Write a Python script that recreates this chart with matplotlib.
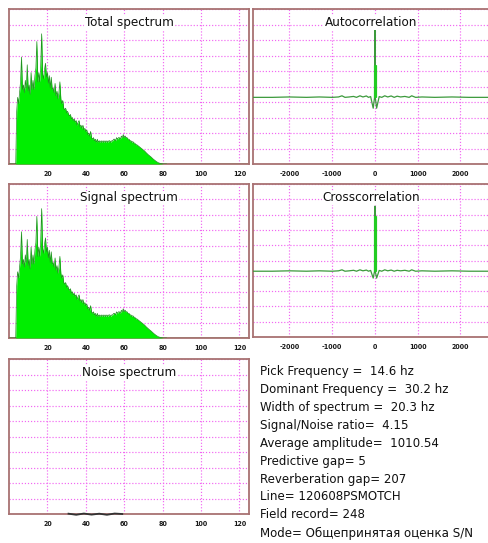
import numpy as np
import matplotlib.pyplot as plt
from matplotlib import font_manager as fm

# spectrum (relative amplitude, 0..10), sampled every 0.5 hz from 0 to 82 hz
freq = np.arange(0, 82.5, 0.5)
total_amp = [0, 0, 0, 0, 0, 0, 0, 0,
             3.4, 4.3, 3.9, 4.6, 5.3, 6.9, 4.8, 5.1, 4.6, 5.4,
             4.9, 6.4, 4.7, 5.1, 4.5, 5.9, 4.8, 5.4, 4.8, 5.7,
             6.2, 7.9, 5.3, 5.9, 5.3, 6.3, 8.4, 5.8, 5.5, 6.1,
             6.5, 5.6, 5.9, 5.2, 5.7, 4.9, 5.6, 4.8, 4.9, 4.6,
             5.2, 4.4, 4.7, 4.2, 4.6, 5.3, 4.2, 3.9, 4.1, 3.6,
             3.5, 3.6, 3.3, 3.4, 3.2, 3.1, 3.2, 2.9, 3.0, 2.8,
             2.9, 2.7, 2.8, 2.5, 2.7, 2.8, 2.4, 2.5, 2.3, 2.5,
             2.2, 2.3, 2.1, 2.2, 1.9, 2.0, 1.8, 2.1, 1.7, 1.6,
             1.7, 1.5, 1.6, 1.4, 1.6, 1.4, 1.5, 1.4, 1.5, 1.4,
             1.5, 1.4, 1.5, 1.4, 1.5, 1.4, 1.5, 1.5, 1.4, 1.5,
             1.5, 1.6, 1.6, 1.5, 1.7, 1.6, 1.7, 1.7, 1.6, 1.8,
             1.7, 1.9, 1.7, 1.8, 1.7, 1.7, 1.6, 1.6, 1.5, 1.5,
             1.4, 1.45, 1.35, 1.35, 1.25, 1.25, 1.2, 1.15, 1.1, 1.05,
             1.0, 0.95, 0.9, 0.85, 0.78, 0.72, 0.66, 0.6, 0.55, 0.5,
             0.45, 0.39, 0.33, 0.28, 0.23, 0.18, 0.14, 0.1, 0.07, 0.05,
             0.03, 0.02, 0.01, 0, 0, 0, 0]
signal_amp = list(total_amp)

noise_freq = [31, 35, 39, 43, 47, 51, 55, 59]
noise_amp = [0.02, -0.05, 0.03, -0.04, 0.02, -0.05, 0.03, 0.0]

# correlations, lag in ms
lag = [-2850, -2400, -2000, -1600, -1300, -1000, -850, -770, -700, -600,
       -500, -430, -350, -280, -200, -150, -100, -40, -8, -3, 0,
       3, 8, 40, 100, 160, 230, 300, 380, 450, 520, 600, 700, 800,
       860, 950, 1100, 1400, 1800, 2200, 2670]
auto_val = [0, 0, 0.005, 0, 0.005, 0, 0.005, 0.02, 0.0, 0.005,
            0.012, 0.0, 0.02, 0.005, 0.018, 0.0, 0.01, -0.14, 0.0, 0.42, 1.0,
            0.42, 0.0, -0.14, 0.01, 0.0, 0.02, 0.005, 0.018, 0.0, 0.015, 0.005, 0.012, 0.0,
            0.02, 0.0, 0.005, 0, 0.005, 0, 0]
cross_val = [0, 0, 0.005, 0, 0.005, 0, 0.005, 0.018, 0.0, 0.005,
             0.012, 0.0, 0.018, 0.005, 0.015, 0.0, 0.01, -0.09, 0.0, 0.72, 0.85,
             0.72, 0.0, -0.09, 0.01, 0.0, 0.018, 0.005, 0.015, 0.0, 0.012, 0.005, 0.012, 0.0,
             0.018, 0.0, 0.005, 0, 0.005, 0, 0]

info_lines = ["Pick Frequency =  14.6 hz",
              "Dominant Frequency =  30.2 hz",
              "Width of spectrum =  20.3 hz",
              "Signal/Noise ratio=  4.15",
              "Average amplitude=  1010.54",
              "Predictive gap= 5",
              "Reverberation gap= 207",
              "Line= 120608PSMOTCH",
              "Field record= 248",
              "Mode= Общепринятая оценка S/N"]


def narrow_font():
    # narrowest installed sans font
    for fam, stretch, key in [('Liberation Sans Narrow', 'normal', 'Narrow'),
                              ('DejaVu Sans', 'condensed', 'Condensed'),
                              ('Liberation Sans', 'normal', 'Liberation'),
                              ('Roboto', 'normal', 'Roboto')]:
        try:
            path = fm.findfont(fm.FontProperties(family=fam, stretch=stretch),
                               fallback_to_default=False)
        except ValueError:
            continue
        if key.lower() in path.lower():
            return fam, stretch
    return 'DejaVu Sans', 'normal'


FAM, STRETCH = narrow_font()
plt.rcParams['font.family'] = [FAM, 'DejaVu Sans']
plt.rcParams['font.stretch'] = STRETCH

W, H = 489, 543
fig = plt.figure(figsize=(W / 100, H / 100), dpi=100)
fig.patch.set_facecolor('white')
renderer = fig.canvas.get_renderer()


def size_for(s, target, weight='normal'):
    t = fig.text(0, 0, s, fontsize=10, fontweight=weight, fontstretch=STRETCH)
    w = t.get_window_extent(renderer).width
    t.remove()
    return 10 * target / w


# reference text is squeezed; go a little wider to keep it readable
title_fs = size_for('Total spectrum', 74) * 1.2
tick_fs = size_for('-2000', 18, 'bold') * 1.15
info_fs = size_for('Pick Frequency =  14.6 hz', 122) * 1.25

frame_col = '#a87272'
grid_col = '#f266f2'


def box(x0, y0, x1, y1):
    # pixel box (top-left origin) -> figure fraction axes
    return fig.add_axes([x0 / W, 1 - y1 / H, (x1 - x0) / W, (y1 - y0) / H])


def style(ax, title, xt, ylim, right=True):
    ax.set_ylim(ylim)
    ax.set_xticks(xt)
    ax.set_xticklabels([str(v) for v in xt], fontsize=tick_fs, fontweight='bold')
    ax.set_yticks(np.linspace(ylim[0], ylim[1], 11))
    ax.set_yticklabels([])
    ax.tick_params(length=0, pad=5, colors='#1a1a1a')
    ax.grid(True, color=grid_col, linestyle=(0, (1, 1.6)), linewidth=0.85)
    ax.set_axisbelow(True)
    for s in ax.spines.values():
        s.set_color(frame_col)
        s.set_linewidth(1.3)
    if not right:
        ax.spines['right'].set_visible(False)
    ax.text(0.5, 0.91, title, transform=ax.transAxes, ha='center', va='center',
            fontsize=title_fs, color='#111111',
            bbox=dict(facecolor='white', edgecolor='none', pad=0.5))


spec_ticks = [20, 40, 60, 80, 100, 120]
corr_ticks = [-2000, -1000, 0, 1000, 2000]

# spectra
for (y0, y1), title, amp in [((9, 164), 'Total spectrum', total_amp),
                             ((184, 338), 'Signal spectrum', signal_amp)]:
    ax = box(9, y0, 249, y1)
    ax.set_xlim(0, 125)
    ax.plot([0, 125], [0, 0], color='#55b055', lw=1.2, zorder=2)
    ax.fill_between(freq, 0, amp, color='#00ee00', lw=0, zorder=3)
    ax.plot(freq, amp, color='#1f8f1f', lw=0.5, zorder=4)
    style(ax, title, spec_ticks, (0, 10))

ax = box(9, 359, 249, 514)
ax.set_xlim(0, 125)
ax.plot(noise_freq, noise_amp, color='#333333', lw=1.3, zorder=5, clip_on=False)
style(ax, 'Noise spectrum', spec_ticks, (0, 10))

# correlations
for (y0, y1), title, val, thick in [((9, 164), 'Autocorrelation', auto_val, 0.42),
                                    ((184, 337), 'Crosscorrelation', cross_val, 0.72)]:
    ax = box(253, y0, 489, y1)
    ax.set_xlim(-2850, 2667)
    v = np.array(val)
    lg = np.array(lag)
    ax.plot(lg, v, color='#3c9a3c', lw=0.9, zorder=3)
    core = v > 0.3
    ax.vlines(lg[core], 0, np.minimum(v[core], thick), color='#22cc22', lw=2.2, zorder=4)
    style(ax, title, corr_ticks, (-0.86, 1.14), right=False)

# info text
for i, line in enumerate(info_lines):
    fig.text(260 / W, 1 - (371 + 18 * i) / H, line, ha='left', va='center',
             fontsize=info_fs, color='#111111')

fig.savefig('out.png', dpi=100, facecolor='white')
